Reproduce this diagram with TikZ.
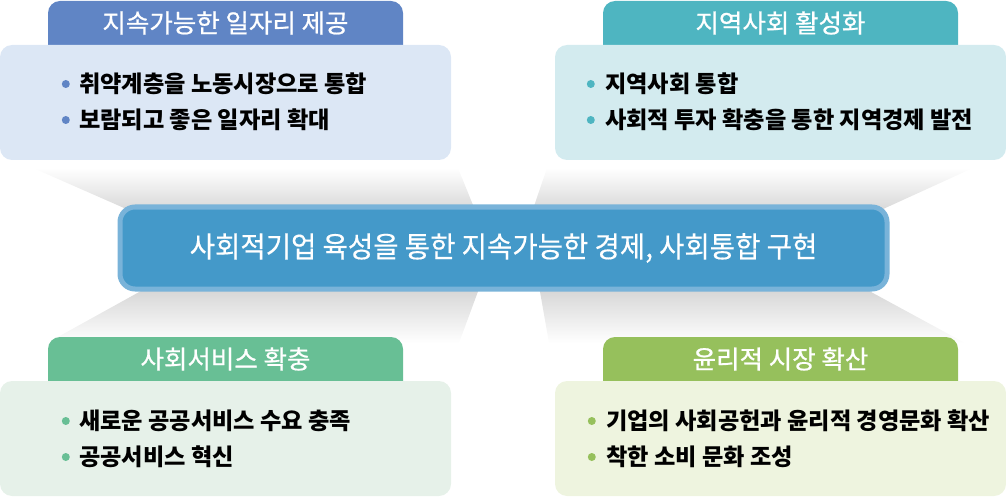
\documentclass[tikz,border=0pt]{standalone}
\usepackage{fontspec}
\setmainfont{Noto Sans CJK KR}
\newfontfamily\narrowkr{Noto Sans CJK KR}[FakeStretch=0.95, FakeBold=0.4]
\newfontfamily\tabkr{Noto Sans CJK KR}[FakeBold=0.8]
\usetikzlibrary{positioning, backgrounds}
\definecolor{jobblue}{HTML}{6085C5}
\definecolor{jobpale}{HTML}{DCE7F5}
\definecolor{regionteal}{HTML}{4EB5C1}
\definecolor{regionpale}{HTML}{D3EBEF}
\definecolor{servicegreen}{HTML}{68BF95}
\definecolor{servicepale}{HTML}{E6F1E9}
\definecolor{marketgreen}{HTML}{96C05C}
\definecolor{marketpale}{HTML}{EEF4DF}
\definecolor{goalblue}{HTML}{4499C9}
\definecolor{goalrim}{HTML}{79B3D9}

\begin{document}
\begin{tikzpicture}[x=1pt, y=-1pt,
  panel/.style={rounded corners=12pt, minimum width=451pt, minimum height=115pt, inner sep=0pt, outer sep=0pt},
  tab/.style={minimum width=355pt, minimum height=44pt, inner sep=0pt, outer sep=0pt, text=white, font=\tabkr\fontsize{25.5}{30}\selectfont},
  item/.style={anchor=west, inner sep=0pt, font=\bfseries\fontsize{23.2}{27}\selectfont},
  dot/.style={circle, minimum size=8pt, inner sep=0pt}]
\useasboundingbox (0,0) rectangle (1006,497);

% the goal in the middle
\node[rounded corners=15pt, fill=goalblue, draw=goalrim, line width=5pt, minimum width=767pt, minimum height=82pt, text=white, font=\narrowkr\fontsize{29}{33}\selectfont] (goal) at (503.5,248) {사회적기업 육성을 통한 지속가능한 경제, 사회통합 구현};

% four panels
\node[panel, fill=jobpale] (job) at (225.5,102.5) {};
\node[tab, above=0pt of job] (jobtab) {지속가능한 일자리 제공};
\node[item] (job1) at (79,84) {취약계층을 노동시장으로 통합};
\node[item, below=36pt of job1.west, anchor=west] (job2) {보람되고 좋은 일자리 확대};
\node[dot, fill=jobblue, left=9pt of job1] (job1dot) {};
\node[dot, fill=jobblue, left=9pt of job2] (job2dot) {};

\node[panel, fill=regionpale] (region) at (780.5,102.5) {};
\node[tab, above=0pt of region] (regiontab) {지역사회 활성화};
\node[item] (region1) at (605,84) {지역사회 통합};
\node[item, below=36pt of region1.west, anchor=west] (region2) {사회적 투자 확충을 통한 지역경제 발전};
\node[dot, fill=regionteal, left=10pt of region1] (region1dot) {};
\node[dot, fill=regionteal, left=10pt of region2] (region2dot) {};

\node[panel, fill=servicepale] (service) at (225.5,438.5) {};
\node[tab, above=0pt of service] (servicetab) {사회서비스 확충};
\node[item] (service1) at (79,421) {새로운 공공서비스 수요 충족};
\node[item, below=36pt of service1.west, anchor=west] (service2) {공공서비스 혁신};
\node[dot, fill=servicegreen, left=9pt of service1] (service1dot) {};
\node[dot, fill=servicegreen, left=9pt of service2] (service2dot) {};

\node[panel, fill=marketpale] (market) at (780.5,438.5) {};
\node[tab, above=0pt of market] (markettab) {윤리적 시장 확산};
\node[item] (market1) at (606,421) {기업의 사회공헌과 윤리적 경영문화 확산};
\node[item, below=36pt of market1.west, anchor=west] (market2) {착한 소비 문화 조성};
\node[dot, fill=marketgreen, left=10pt of market1] (market1dot) {};
\node[dot, fill=marketgreen, left=10pt of market2] (market2dot) {};

\begin{scope}[on background layer]
% grey funnels towards the goal
\shade[top color=white, bottom color=black!17] (33,168) -- (458,168) -- (477,215) -- (140,215) -- cycle;
\shade[top color=white, bottom color=black!17] (547,168) -- (973,168) -- (870,215) -- (531,215) -- cycle;
\shade[top color=black!17, bottom color=white] (150,286) -- (480,286) -- (459,343) -- (47,343) -- cycle;
\shade[top color=black!17, bottom color=white] (539,286) -- (860,286) -- (965,343) -- (549,343) -- cycle;
% tabs
\fill[jobblue, rounded corners=12pt] (jobtab.north west) rectangle ([yshift=-14pt]jobtab.south east);
\fill[regionteal, rounded corners=12pt] (regiontab.north west) rectangle ([yshift=-14pt]regiontab.south east);
\fill[servicegreen, rounded corners=12pt] (servicetab.north west) rectangle ([yshift=-14pt]servicetab.south east);
\fill[marketgreen, rounded corners=12pt] (markettab.north west) rectangle ([yshift=-14pt]markettab.south east);
\end{scope}
\end{tikzpicture}
\end{document}
